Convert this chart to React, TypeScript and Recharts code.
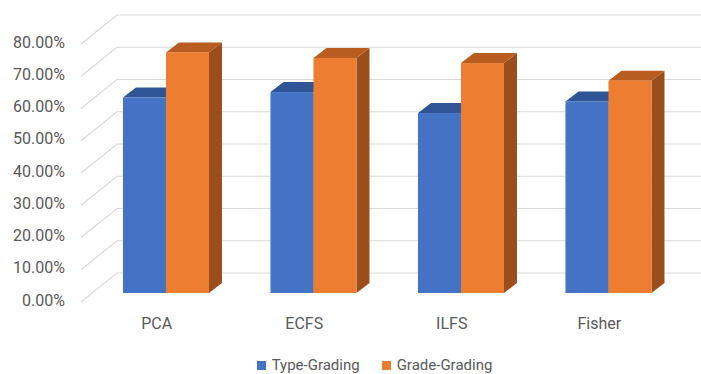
import React from "react";
import { BarChart, Bar, XAxis, YAxis, CartesianGrid, Legend } from "recharts";

const categories = ["PCA", "ECFS", "ILFS", "Fisher"];
const typeGrading = [0.606, 0.623, 0.558, 0.594];
const gradeGrading = [0.746, 0.729, 0.713, 0.658];
const yTicks = [0, 0.1, 0.2, 0.3, 0.4, 0.5, 0.6, 0.7, 0.8];
const seriesNames = ["Type-Grading", "Grade-Grading"];

const data = categories.map((name, i) => ({
  name,
  type: typeGrading[i],
  grade: gradeGrading[i],
}));

const FONT = "Roboto, 'Noto Sans', sans-serif";
const TEXT = "#595959";

// Oblique depth of a bar block
const DX = 13;
const DY = -10;

type Shade = { front: string; top: string; side: string };
const BLUE: Shade = { front: "#4472C4", top: "#2F5597", side: "#2E5490" };
const ORANGE: Shade = { front: "#ED7D31", top: "#B85C20", side: "#9A4E1C" };

const makeBox = (shade: Shade) => (props: any) => {
  const { x, y, width: w, height: h } = props;
  if (h == null || w == null) return <g />;
  const top = `${x},${y} ${x + DX},${y + DY} ${x + w + DX},${y + DY} ${x + w},${y}`;
  const side = `${x + w},${y} ${x + w + DX},${y + DY} ${x + w + DX},${y + h + DY} ${x + w},${y + h}`;
  return (
    <g>
      <polygon points={side} fill={shade.side} />
      <polygon points={top} fill={shade.top} />
      <rect x={x} y={y} width={w} height={h} fill={shade.front} />
    </g>
  );
};

const YTick = (props: any) => {
  const { x, y, payload } = props;
  return (
    <text
      x={x - 19}
      y={y + 7}
      textAnchor="end"
      dominantBaseline="central"
      fontFamily={FONT}
      fontSize={16}
      fill={TEXT}
    >
      {(payload.value * 100).toFixed(2) + "%"}
    </text>
  );
};

const XTick = (props: any) => {
  const { x, y, payload } = props;
  return (
    <text
      x={x - 9}
      y={y + 22}
      textAnchor="middle"
      dominantBaseline="central"
      fontFamily={FONT}
      fontSize={16}
      fill={TEXT}
    >
      {payload.value}
    </text>
  );
};

// Floor-to-wall gridline: short diagonal from the front edge, then across the back wall
const gridLine = (p: any) => {
  const { x1, y1 } = p;
  return (
    <polyline
      key={p.key ?? `g-${y1}`}
      points={`${x1 - 11},${y1 + 9} ${x1 + 25},${y1 - 20} 701,${y1 - 20}`}
      fill="none"
      stroke="#D9D9D9"
      strokeWidth={1.2}
    />
  );
};

const LegendContent = () => (
  <div
    style={{
      display: "flex",
      justifyContent: "center",
      alignItems: "center",
      height: 30,
      paddingTop: 12,
      paddingLeft: 35,
      boxSizing: "border-box",
      fontFamily: FONT,
      fontSize: 15,
      lineHeight: "16px",
      color: TEXT,
    }}
  >
    {seriesNames.map((n, i) => (
      <div key={n} style={{ display: "flex", alignItems: "center", marginRight: i === 0 ? 22 : 0 }}>
        <span
          style={{
            width: 9,
            height: 9,
            background: i === 0 ? BLUE.front : ORANGE.front,
            display: "inline-block",
            marginRight: 6,
          }}
        />
        <span>{n}</span>
      </div>
    ))}
  </div>
);

export default function App() {
  return (
    <div style={{ position: "absolute", left: 0, top: 0, background: "#fff" }}>
      <BarChart
        width={701}
        height={374}
        data={data}
        margin={{ top: 35, right: 19, bottom: 0, left: 32 }}
        barCategoryGap="21%"
        barGap={0}
      >
        <CartesianGrid vertical={false} horizontal={gridLine} />
        <XAxis
          dataKey="name"
          height={51}
          axisLine={false}
          tickLine={false}
          tick={<XTick />}
          interval={0}
        />
        <YAxis
          width={60}
          domain={[0, 0.8]}
          ticks={yTicks}
          axisLine={false}
          tickLine={false}
          tick={<YTick />}
          interval={0}
        />
        <Legend verticalAlign="bottom" height={30} content={<LegendContent />} />
        <Bar dataKey="type" name={seriesNames[0]} shape={makeBox(BLUE)} isAnimationActive={false} />
        <Bar dataKey="grade" name={seriesNames[1]} shape={makeBox(ORANGE)} isAnimationActive={false} />
      </BarChart>
    </div>
  );
}
